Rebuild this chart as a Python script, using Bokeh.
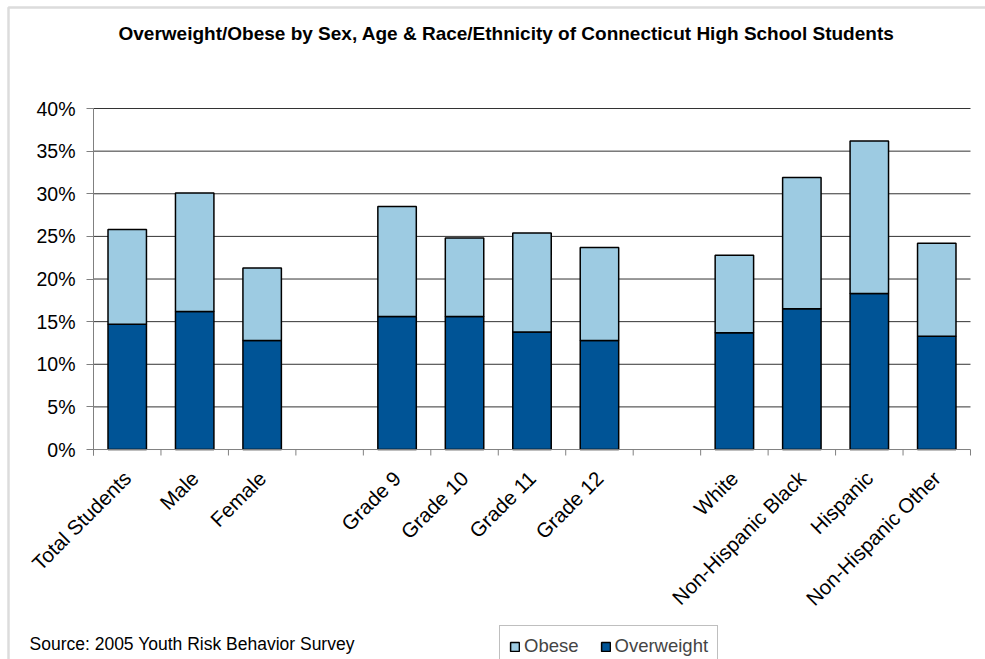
import math
from bokeh.plotting import figure
from bokeh.models import (Range1d, FactorRange, CategoricalAxis, FixedTicker,
                          PrintfTickFormatter, Label, Legend, LegendItem, BoxAnnotation,
                          ColumnDataSource)
from bokeh.embed import file_html
from bokeh.resources import INLINE

title_text = "Overweight/Obese by Sex, Age & Race/Ethnicity of Connecticut High School Students"
source_text = "Source: 2005 Youth Risk Behavior Survey"

categories = ["Total Students", "Male", "Female", "Grade 9", "Grade 10", "Grade 11",
              "Grade 12", "White", "Non-Hispanic Black", "Hispanic", "Non-Hispanic Other"]
# axis slots, including the two empty group gaps
axis_factors = ["Total Students", "Male", "Female", " ", "Grade 9", "Grade 10", "Grade 11",
                "Grade 12", "  ", "White", "Non-Hispanic Black", "Hispanic", "Non-Hispanic Other"]
overweight = [14.7, 16.2, 12.8, 15.6, 15.6, 13.8, 12.8, 13.7, 16.5, 18.3, 13.3]
obese = [11.1, 13.9, 8.5, 12.9, 9.2, 11.6, 10.9, 9.1, 15.4, 17.9, 10.9]
y_ticks = [0, 5, 10, 15, 20, 25, 30, 35, 40]
series_names = ["Obese", "Overweight"]

FONT = "Liberation Sans"
DARK = "#005496"
LIGHT = "#9DCBE2"
AXIS_GRAY = "#808080"
GRID = "#333333"
TICK_LEN = 0.7        # length of the slot-boundary ticks, in % units
# layout: the plot frame fills the whole canvas; margins are made with range padding
PAD_GROUP, MAIN_GROUP = " ", "  "
GROUP_PAD = 0.1562    # spacing between the invisible left pad slot and the chart slots
RANGE_PAD = 0.2224    # outer padding of the category range (absolute, in slots)
Y_START, Y_END = -24.63, 52.67

x_factors = [(PAD_GROUP, " ")] + [(MAIN_GROUP, f) for f in axis_factors]
bar_x = [(MAIN_GROUP, c) for c in categories]

src = ColumnDataSource(dict(x=bar_x, overweight=overweight, obese=obese))

p = figure(width=985, height=659,
           x_range=FactorRange(factors=x_factors, group_padding=GROUP_PAD,
                               factor_padding=0, range_padding=RANGE_PAD,
                               range_padding_units="absolute"),
           y_range=Range1d(Y_START, Y_END),
           x_axis_location=None,
           output_backend="svg", toolbar_location=None,
           min_border=0, min_border_left=0, min_border_right=0,
           min_border_top=0, min_border_bottom=0)
p.outline_line_color = None
p.background_fill_color = "white"
p.border_fill_color = "white"
p.xgrid.visible = False
p.ygrid.visible = False

# y axis pinned at the left edge of the first chart slot
yax = p.yaxis[0]
yax.fixed_location = 1 + GROUP_PAD
yax.bounds = (-TICK_LEN, y_ticks[-1])
yax.ticker = FixedTicker(ticks=y_ticks)
yax.formatter = PrintfTickFormatter(format="%d%%")
yax.major_label_text_font = FONT
yax.major_label_text_font_size = "19.5px"
yax.major_label_text_color = "black"
yax.axis_line_color = AXIS_GRAY
yax.major_tick_line_color = AXIS_GRAY
yax.major_tick_out = 7
yax.major_tick_in = 0
yax.minor_tick_line_color = None
yax.major_label_standoff = 11

# category axis pinned at 0 %
cat_axis = CategoricalAxis(fixed_location=0,
                           major_tick_line_color=None, axis_line_color=None,
                           separator_line_color=None,
                           major_label_orientation=math.pi / 4,
                           major_label_text_font=FONT, major_label_text_font_size="20.5px",
                           major_label_text_color="black", major_label_standoff=19,
                           group_text_alpha=0, group_text_font_size="1px")
p.add_layout(cat_axis, "below")

left_edge = (MAIN_GROUP, axis_factors[0], -0.5)
right_edge = (MAIN_GROUP, axis_factors[-1], 0.5)

# horizontal gridlines at the y ticks (above 0)
grid_y = y_ticks[1:]
p.segment(x0=[left_edge] * len(grid_y), x1=[right_edge] * len(grid_y),
          y0=grid_y, y1=grid_y, line_color=GRID, line_width=1)

rs = p.vbar_stack(["overweight", "obese"], x="x", width=0.57, source=src,
                  fill_color=[DARK, LIGHT], line_color="black", line_width=1.5)

# category axis line and slot-boundary ticks
p.segment(x0=[left_edge], x1=[right_edge], y0=[0], y1=[0], line_color=AXIS_GRAY, line_width=1)
bx = [(MAIN_GROUP, f, -0.5) for f in axis_factors] + [right_edge]
p.segment(x0=bx, x1=bx, y0=[0] * len(bx), y1=[-TICK_LEN] * len(bx),
          line_color=AXIS_GRAY, line_width=1)

legend = Legend(items=[LegendItem(label=series_names[0], renderers=[rs[1]]),
                       LegendItem(label=series_names[1], renderers=[rs[0]])],
                location=(499, -8), orientation="horizontal",
                border_line_color=AXIS_GRAY, border_line_width=1.5,
                background_fill_color="white", background_fill_alpha=1,
                label_text_font=FONT, label_text_font_size="18.5px",
                glyph_width=11, glyph_height=11, label_standoff=4, spacing=21,
                padding=9, margin=0)
p.add_layout(legend)

p.add_layout(Label(x=506, y=626, x_units="screen", y_units="screen", text=title_text,
                   text_align="center", text_baseline="middle", text_font=FONT,
                   text_font_style="bold", text_font_size="19px", text_color="black"))
p.add_layout(Label(x=29, y=16, x_units="screen", y_units="screen", text=source_text,
                   text_align="left", text_baseline="middle", text_font=FONT,
                   text_font_size="17.5px", text_color="black"))

p.add_layout(BoxAnnotation(left=8, right=2000, top=652, bottom=-200,
                           left_units="screen", right_units="screen",
                           top_units="screen", bottom_units="screen",
                           fill_alpha=0, line_color="#8c8c8c", line_width=2.5))

open("out.html", "w").write(file_html(p, INLINE))
